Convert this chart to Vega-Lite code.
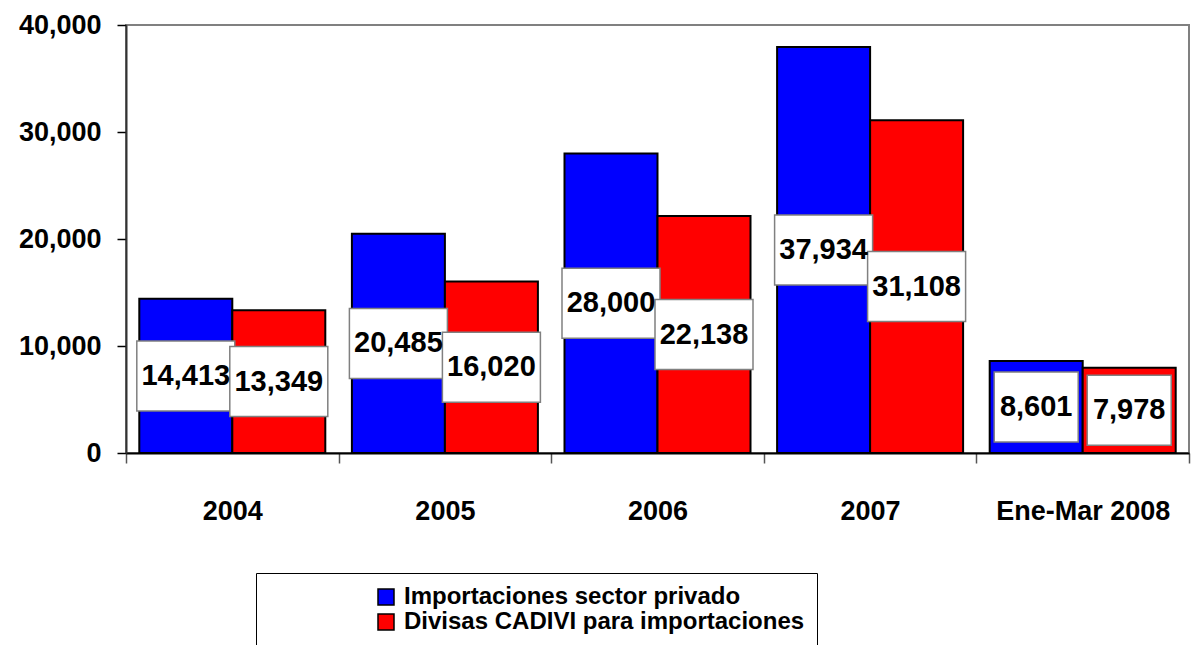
{
  "$schema": "https://vega.github.io/schema/vega-lite/v6.json",
  "width": 1063,
  "height": 428,
  "autosize": {"type": "none"},
  "padding": {"left": 126, "top": 25, "right": 6, "bottom": 192},
  "background": "white",
  "config": {
    "view": {"stroke": "#808080", "strokeWidth": 2},
    "font": "Liberation Sans"
  },
  "data": {
    "values": [
      {"periodo": "2004", "serie": "Importaciones sector privado", "valor": 14413},
      {"periodo": "2004", "serie": "Divisas CADIVI para importaciones", "valor": 13349},
      {"periodo": "2005", "serie": "Importaciones sector privado", "valor": 20485},
      {"periodo": "2005", "serie": "Divisas CADIVI para importaciones", "valor": 16020},
      {"periodo": "2006", "serie": "Importaciones sector privado", "valor": 28000},
      {"periodo": "2006", "serie": "Divisas CADIVI para importaciones", "valor": 22138},
      {"periodo": "2007", "serie": "Importaciones sector privado", "valor": 37934},
      {"periodo": "2007", "serie": "Divisas CADIVI para importaciones", "valor": 31108},
      {"periodo": "Ene-Mar 2008", "serie": "Importaciones sector privado", "valor": 8601},
      {"periodo": "Ene-Mar 2008", "serie": "Divisas CADIVI para importaciones", "valor": 7978}
    ]
  },
  "encoding": {
    "x": {
      "field": "periodo",
      "type": "nominal",
      "sort": null,
      "scale": {"paddingInner": 0, "paddingOuter": 0},
      "axis": {
        "title": null,
        "labelAngle": 0,
        "tickBand": "extent",
        "labelFont": "Liberation Sans",
        "labelFontWeight": "bold",
        "labelFontSize": 27,
        "labelColor": "#000",
        "labelPadding": 35,
        "tickSize": 10,
        "tickColor": "#555",
        "tickWidth": 1.5,
        "domainColor": "#000",
        "domainWidth": 2
      }
    },
    "xOffset": {
      "field": "serie",
      "type": "nominal",
      "scale": {
        "domain": ["Importaciones sector privado", "Divisas CADIVI para importaciones"],
        "paddingInner": 0,
        "paddingOuter": 0.143
      }
    }
  },
  "layer": [
    {
      "mark": {"type": "bar", "stroke": "#000", "strokeWidth": 2},
      "encoding": {
        "y": {
          "field": "valor",
          "type": "quantitative",
          "scale": {"domain": [0, 40000], "nice": false},
          "axis": {
            "title": null,
            "values": [0, 10000, 20000, 30000, 40000],
            "format": ",d",
            "grid": false,
            "labelFont": "Liberation Sans",
            "labelFontWeight": "bold",
            "labelFontSize": 27,
            "labelColor": "#000",
            "labelPadding": 16,
            "tickSize": 9,
            "tickColor": "#000",
            "tickWidth": 1.5,
            "domainColor": "#333",
            "domainWidth": 2
          }
        },
        "color": {
          "field": "serie",
          "type": "nominal",
          "scale": {
            "domain": ["Importaciones sector privado", "Divisas CADIVI para importaciones"],
            "range": ["#0000FF", "#FF0000"]
          },
          "legend": {
            "orient": "none",
            "legendX": 130,
            "legendY": 548,
            "direction": "vertical",
            "title": null,
            "strokeColor": "#000",
            "padding": 12,
            "symbolType": "square",
            "symbolSize": 256,
            "symbolStrokeColor": "#000",
            "symbolStrokeWidth": 1.5,
            "symbolOffset": 106,
            "labelFont": "Liberation Sans",
            "labelFontWeight": "bold",
            "labelFontSize": 24,
            "labelColor": "#000",
            "labelOffset": 6,
            "rowPadding": 1,
            "labelLimit": 2000
          }
        }
      }
    },
    {
      "transform": [{"calculate": "datum.valor / 2", "as": "centro"}],
      "mark": {"type": "point", "filled": true, "fill": "#FFFFFF", "stroke": "#808080", "strokeWidth": 1.5, "opacity": 1, "size": 4900},
      "encoding": {
        "y": {"field": "centro", "type": "quantitative"},
        "shape": {
          "condition": {"test": "datum.valor < 10000", "value": "M-1.2,-1H1.2V1H-1.2Z"},
          "value": "M-1.4,-1H1.4V1H-1.4Z"
        }
      }
    },
    {
      "transform": [{"calculate": "datum.valor / 2", "as": "centro"}],
      "mark": {"type": "text", "font": "Liberation Sans", "fontWeight": "bold", "fontSize": 29, "color": "#000", "baseline": "middle", "align": "center"},
      "encoding": {
        "y": {"field": "centro", "type": "quantitative"},
        "text": {"field": "valor", "type": "quantitative", "format": ",d"}
      }
    }
  ]
}
